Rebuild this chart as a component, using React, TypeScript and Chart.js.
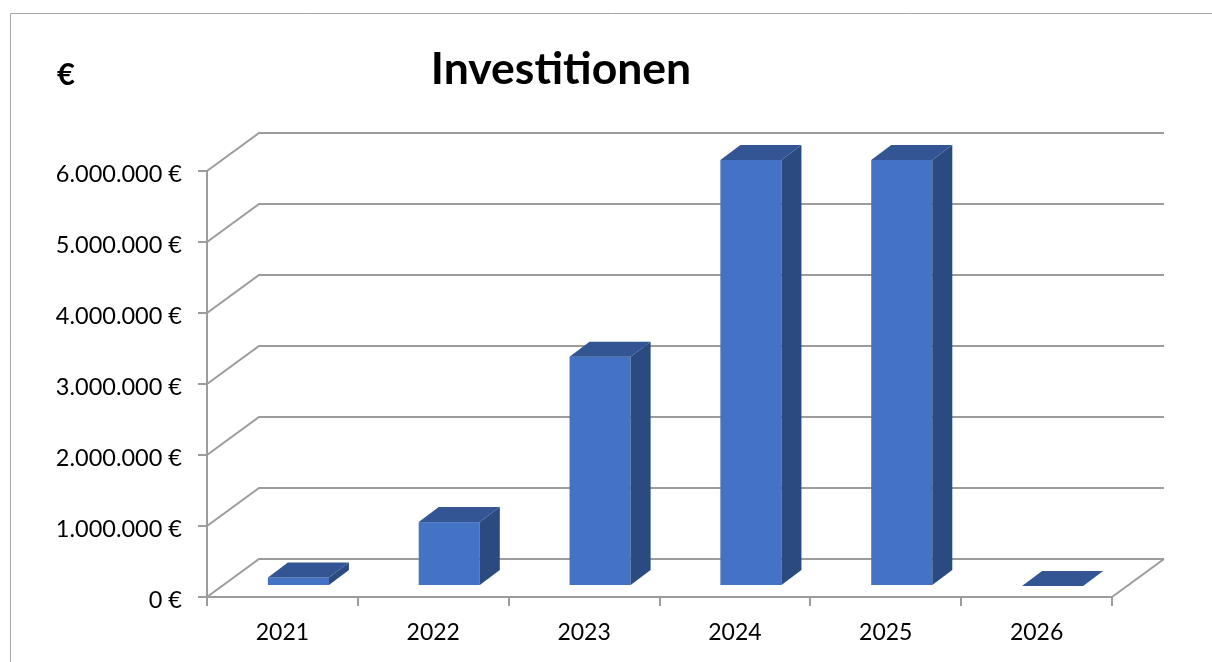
import React, { useEffect, useRef } from "react";
import { Chart, registerables } from "chart.js";

Chart.register(...registerables);

// ---- data ----
const categories = ["2021", "2022", "2023", "2024", "2025", "2026"];
const investments = [120000, 900000, 3230000, 6000000, 6000000, 0];
const yMin = 0;
const yMax = 6000000;
const yStep = 1000000;
const chartTitle = "Investitionen";
const unitLabel = "€";

// ---- style ----
const FONT = "Lato, 'Open Sans', sans-serif";
const GRID = "#9c9c9c";
const FRONT = "#4472C4";
const TOP = "#335593";
const SIDE = "#2A4A80";
const DEPTH = { dx: 52, dy: -38 };
const BAR_FRONT = { dx: 16, dy: -11 };
const BAR_BACK = { dx: 36, dy: -26 };

function formatEuro(v: number): string {
  return String(Math.round(v)).replace(/\B(?=(\d{3})+(?!\d))/g, ".") + " €";
}

const threeD = {
  id: "threeD",
  beforeDraw(chart: any) {
    const ctx = chart.ctx;
    ctx.save();
    ctx.fillStyle = "#ffffff";
    ctx.fillRect(0, 0, chart.width, chart.height);
    ctx.strokeStyle = "#a6a6a6";
    ctx.lineWidth = 1;
    ctx.beginPath();
    ctx.moveTo(10.5, chart.height);
    ctx.lineTo(10.5, 13.5);
    ctx.lineTo(chart.width, 13.5);
    ctx.stroke();

    ctx.fillStyle = "#000000";
    ctx.font = `bold 44.5px ${FONT}`;
    ctx.textAlign = "center";
    ctx.textBaseline = "alphabetic";
    ctx.fillText(chartTitle, 561, 83.5);

    ctx.font = `bold 31px ${FONT}`;
    ctx.textAlign = "left";
    ctx.fillText(unitLabel, 57, 84.5);
    ctx.restore();
  },
  beforeDatasetsDraw(chart: any) {
    const ctx = chart.ctx;
    const a = chart.chartArea;
    const y = chart.scales.y;
    ctx.save();
    ctx.strokeStyle = GRID;
    ctx.lineWidth = 2;
    y.ticks.forEach((t: any) => {
      const py = Math.round(y.getPixelForValue(t.value));
      ctx.beginPath();
      ctx.moveTo(a.left, py);
      ctx.lineTo(a.left + DEPTH.dx, py + DEPTH.dy);
      ctx.lineTo(a.right + DEPTH.dx, py + DEPTH.dy);
      ctx.stroke();
    });
    const p0 = Math.round(y.getPixelForValue(yMin));
    ctx.beginPath();
    ctx.moveTo(a.right, p0);
    ctx.lineTo(a.right + DEPTH.dx, p0 + DEPTH.dy);
    ctx.stroke();
    ctx.restore();
  },
  afterDatasetsDraw(chart: any) {
    const ctx = chart.ctx;
    const meta = chart.getDatasetMeta(0);
    const ddx = BAR_BACK.dx - BAR_FRONT.dx;
    const ddy = BAR_BACK.dy - BAR_FRONT.dy;
    ctx.save();
    meta.data.forEach((el: any) => {
      const { x, y, base, width } = el.getProps(["x", "y", "base", "width"], true);
      const l = x - width / 2 + BAR_FRONT.dx;
      const r = x + width / 2 + BAR_FRONT.dx;
      const t = y + BAR_FRONT.dy;
      const b = base + BAR_FRONT.dy;
      ctx.fillStyle = FRONT;
      ctx.fillRect(l, t, r - l, b - t);
      ctx.fillStyle = SIDE;
      ctx.beginPath();
      ctx.moveTo(r, t);
      ctx.lineTo(r + ddx, t + ddy);
      ctx.lineTo(r + ddx, b + ddy);
      ctx.lineTo(r, b);
      ctx.closePath();
      ctx.fill();
      ctx.fillStyle = TOP;
      ctx.beginPath();
      ctx.moveTo(l, t);
      ctx.lineTo(l + ddx, t + ddy);
      ctx.lineTo(r + ddx, t + ddy);
      ctx.lineTo(r, t);
      ctx.closePath();
      ctx.fill();
    });
    ctx.restore();
  },
};

export default function App() {
  const ref = useRef<HTMLCanvasElement | null>(null);
  useEffect(() => {
    if (!ref.current) return;
    const chart = new Chart(ref.current, {
      type: "bar",
      data: {
        labels: categories,
        datasets: [
          {
            label: chartTitle,
            data: investments,
            backgroundColor: "rgba(0,0,0,0)",
            borderWidth: 0,
            barPercentage: 0.405,
            categoryPercentage: 1,
          },
        ],
      },
      options: {
        animation: false,
        responsive: false,
        devicePixelRatio: 1,
        layout: { padding: { left: 0, top: 171, right: 100, bottom: 0 } },
        plugins: {
          legend: { display: false },
          title: { display: false },
          tooltip: { enabled: false },
        },
        scales: {
          x: {
            offset: true,
            grid: {
              offset: true,
              drawOnChartArea: false,
              drawTicks: true,
              tickLength: 9,
              color: GRID,
              lineWidth: 2,
            },
            border: { display: true, color: GRID, width: 2 },
            ticks: {
              color: "#000000",
              font: { family: FONT, size: 23 },
              padding: 13,
              maxRotation: 0,
            },
            afterFit: (s: any) => {
              s.height = 65;
            },
          },
          y: {
            min: yMin,
            max: yMax,
            grid: {
              drawOnChartArea: false,
              drawTicks: true,
              tickLength: 9,
              color: GRID,
              lineWidth: 2,
            },
            border: { display: true, color: GRID, width: 2 },
            ticks: {
              stepSize: yStep,
              color: "#000000",
              font: { family: FONT, size: 23.5 },
              padding: 16,
              labelOffset: 3,
              callback: (v: any) => formatEuro(Number(v)),
            },
            afterFit: (s: any) => {
              s.width = 207;
            },
          },
        },
      },
      plugins: [threeD],
    });
    return () => chart.destroy();
  }, []);
  return (
    <div style={{ position: "fixed", left: 0, top: 0, width: 1212, height: 662, background: "#fff" }}>
      <canvas ref={ref} width={1212} height={662} style={{ display: "block" }} />
    </div>
  );
}
